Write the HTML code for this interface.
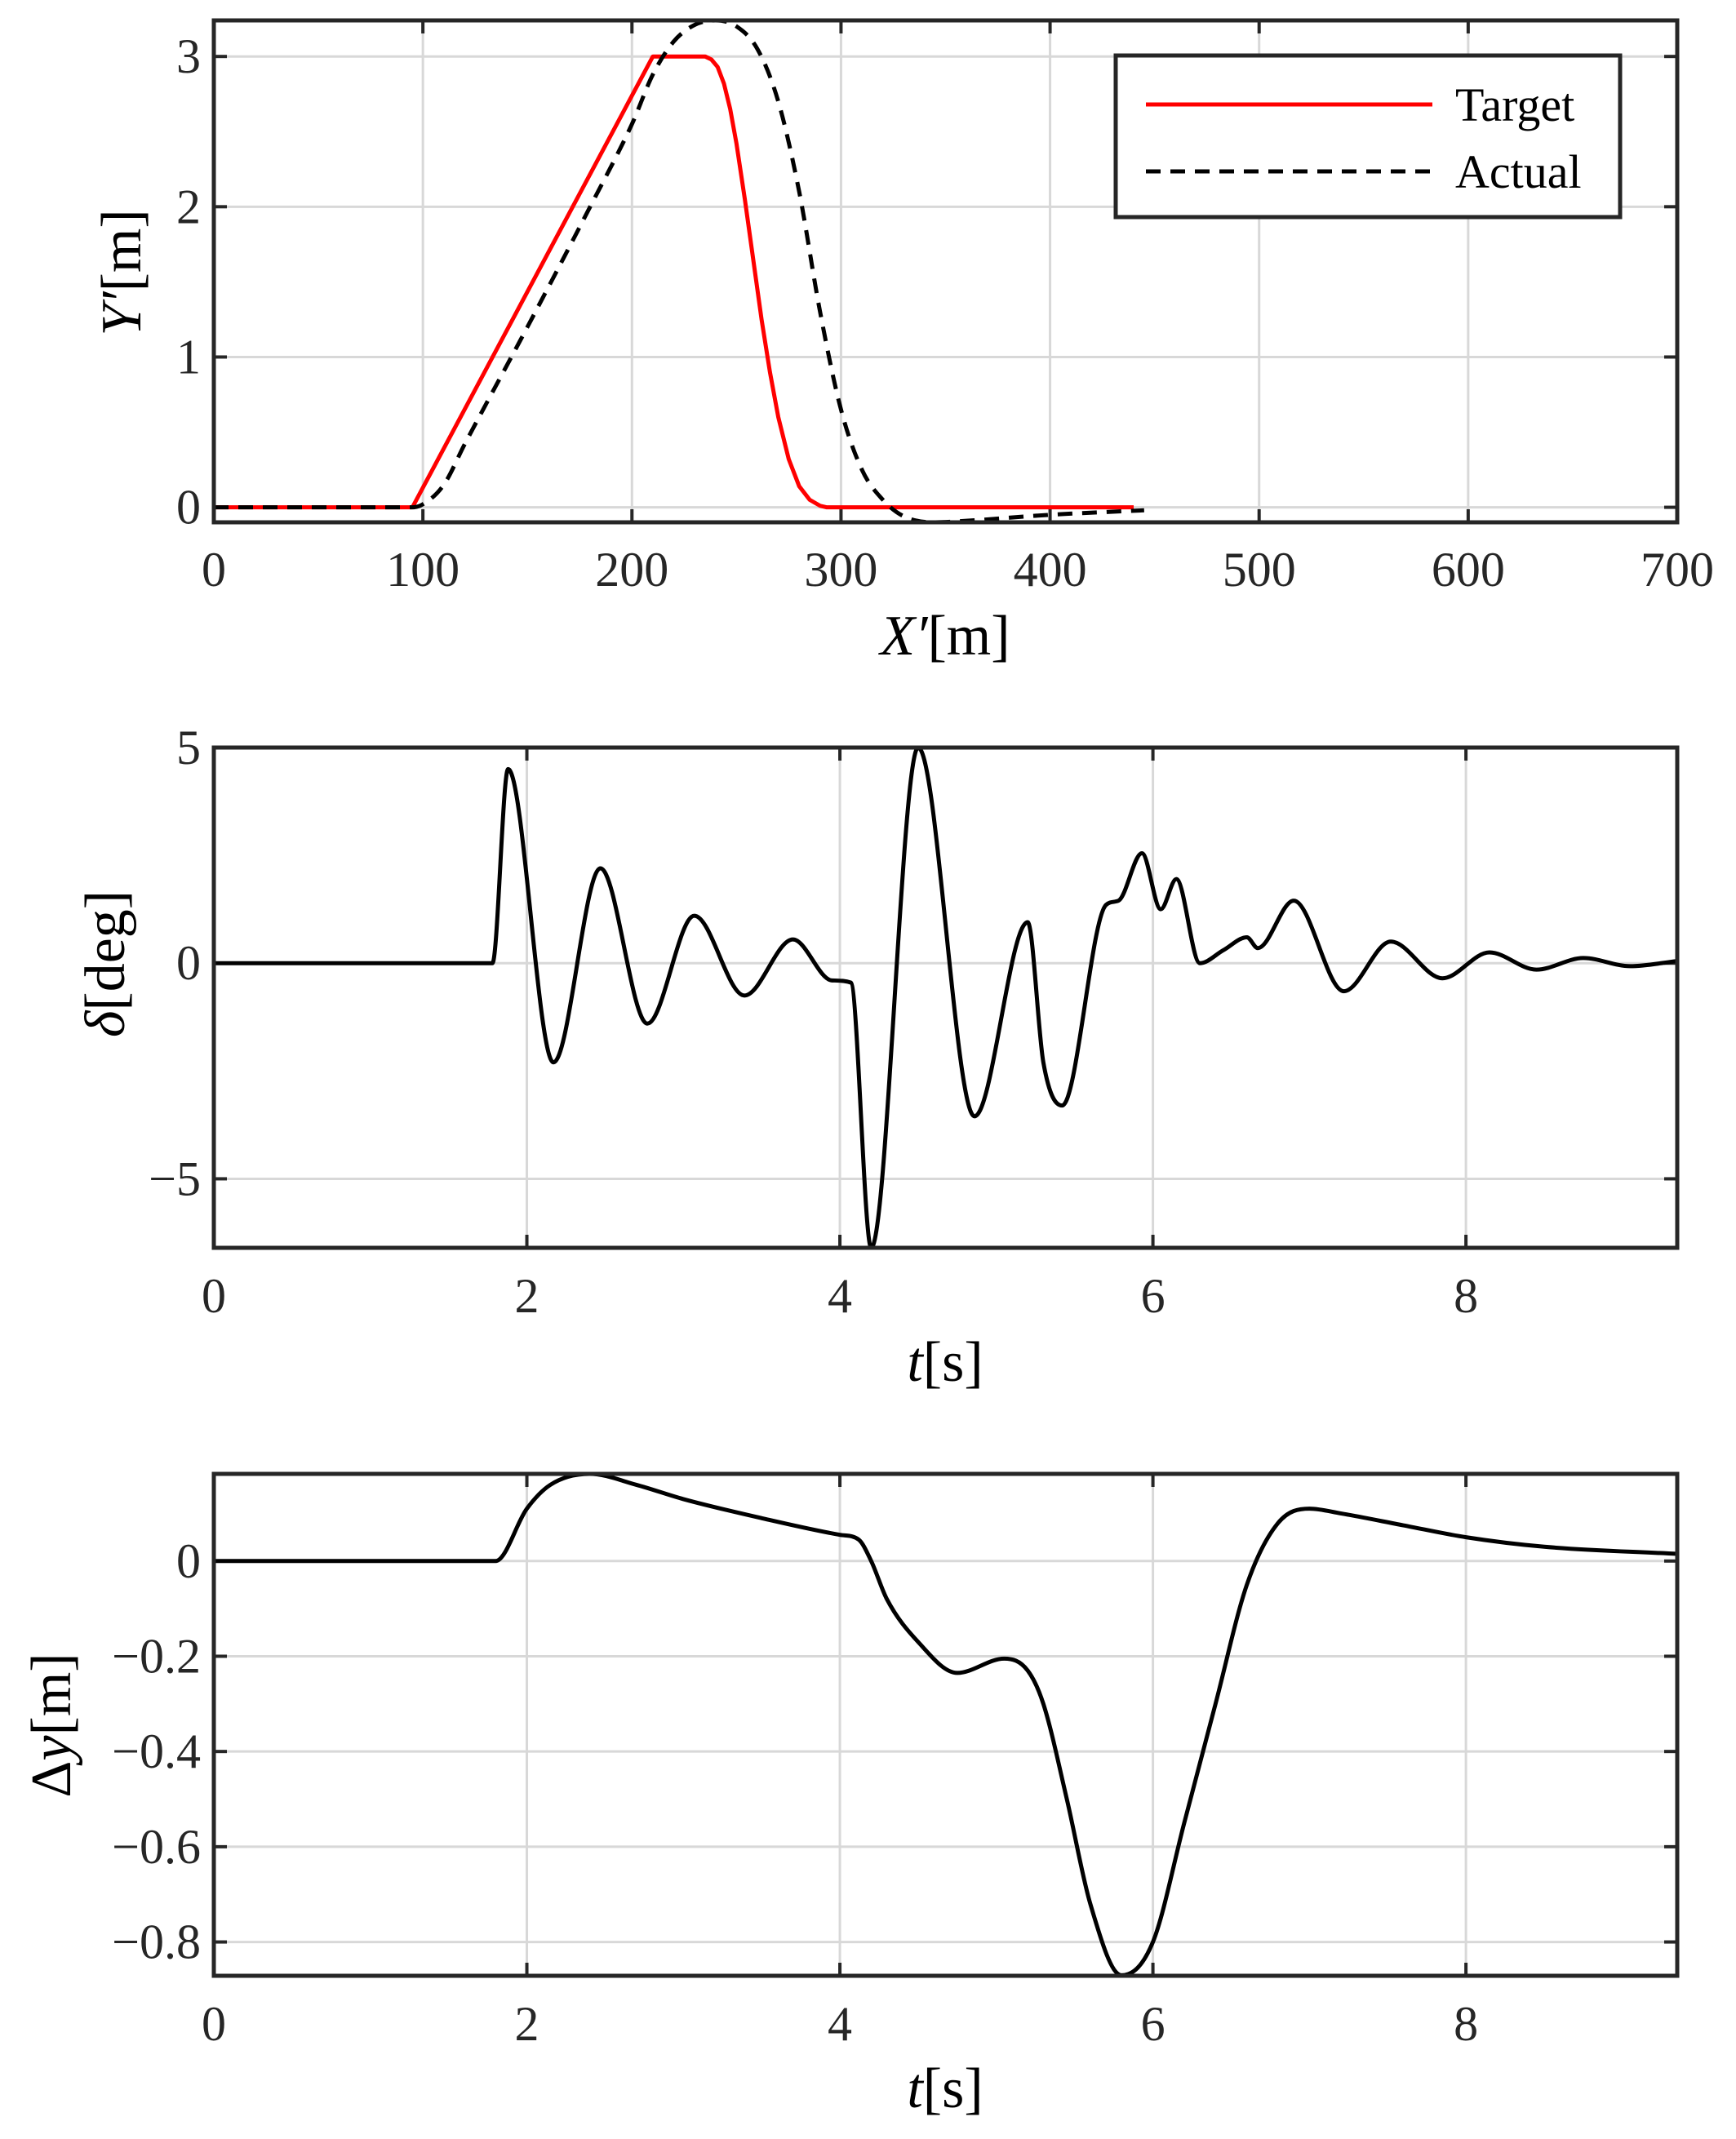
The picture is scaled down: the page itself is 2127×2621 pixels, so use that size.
<!DOCTYPE html>
<html><head><meta charset="utf-8"><style>
html,body{margin:0;padding:0;background:#fff;}
svg{display:block;font-family:"Liberation Serif",serif;}
</style></head><body>
<svg id="fig" width="2127" height="2621" viewBox="0 0 2127 2621" xmlns="http://www.w3.org/2000/svg"></svg>
<script>
// ---- Data ----
const p1XTicks=[0,100,200,300,400,500,600,700];
const p1YTicks=[0,1,2,3];
const targetX=[0,95,210,235,238,241,244,247,250,254,258,262,266,270,275,280,285,290,293,440];
const targetY=[0,0,3,3,2.98,2.93,2.82,2.65,2.42,2.05,1.65,1.25,0.9,0.6,0.32,0.14,0.05,0.01,0,0];
const actualX=[0,95,100,110,120,150,180,200,210,220,230,240,250,260,270,280,290,300,310,320,330,345,360,400,445];
const actualY=[0,0,0.02,0.15,0.42,1.2,2.0,2.55,2.88,3.1,3.21,3.24,3.2,3.05,2.7,2.1,1.3,0.65,0.25,0.05,-0.06,-0.1,-0.09,-0.05,-0.02];
const p2XTicks=[0,2,4,6,8];
const p2YTicks=[-5,0,5];
const deltaT=[0,1.78,1.88,2.17,2.47,2.77,3.07,3.39,3.7,3.95,4.07,4.2,4.5,4.86,5.2,5.3,5.42,5.7,5.78,5.93,6.05,6.15,6.3,6.45,6.6,6.67,6.9,7.22,7.52,7.85,8.15,8.45,8.75,9.05,9.35];
const deltaV=[0,0,4.5,-2.3,2.2,-1.4,1.1,-0.75,0.55,-0.4,-0.45,-6.6,5.0,-3.55,0.95,-2.3,-3.3,1.35,1.45,2.55,1.25,1.95,0,0.3,0.6,0.35,1.45,-0.65,0.5,-0.35,0.25,-0.15,0.12,-0.07,0.05];
const p3YTicks=[-0.8,-0.6,-0.4,-0.2,0];
const dyT=[0,1.8,2.0,2.15,2.4,2.7,3.0,3.5,4.0,4.12,4.2,4.3,4.5,4.75,5.05,5.2,5.3,5.45,5.6,5.8,6.0,6.2,6.4,6.6,6.8,7.0,7.2,7.6,8.0,8.5,9.35];
const dyV=[0,0,0.11,0.16,0.183,0.16,0.13,0.09,0.055,0.045,0.0,-0.08,-0.17,-0.235,-0.205,-0.23,-0.3,-0.5,-0.72,-0.87,-0.8,-0.55,-0.3,-0.05,0.08,0.11,0.1,0.075,0.05,0.03,0.015];

const NS="http://www.w3.org/2000/svg";
const svg=document.getElementById('fig');
function mk(tag,attrs,parent){const e=document.createElementNS(NS,tag);for(const k in attrs)e.setAttribute(k,attrs[k]);(parent||svg).appendChild(e);return e;}

function linPath(xs,ys,sx,sy){return xs.map((x,i)=>(i?'L':'M')+sx(x).toFixed(2)+','+sy(ys[i]).toFixed(2)).join(' ');}
// monotone cubic path
function monoPath(xs,ys,sx,sy){
  const n=xs.length;const d=[],m=[];
  for(let i=0;i<n-1;i++)d.push((ys[i+1]-ys[i])/(xs[i+1]-xs[i]));
  m[0]=d[0];m[n-1]=d[n-2];
  for(let i=1;i<n-1;i++){m[i]=(d[i-1]*d[i]<=0)?0:(d[i-1]+d[i])/2;}
  for(let i=0;i<n-1;i++){if(d[i]===0){m[i]=0;m[i+1]=0;continue;}const a=m[i]/d[i],b=m[i+1]/d[i],s=a*a+b*b;if(s>9){const t=3/Math.sqrt(s);m[i]=t*a*d[i];m[i+1]=t*b*d[i];}}
  let p='M'+sx(xs[0]).toFixed(2)+','+sy(ys[0]).toFixed(2);
  for(let i=0;i<n-1;i++){const h=xs[i+1]-xs[i];
    p+=' C'+sx(xs[i]+h/3).toFixed(2)+','+sy(ys[i]+m[i]*h/3).toFixed(2)+' '+sx(xs[i+1]-h/3).toFixed(2)+','+sy(ys[i+1]-m[i+1]*h/3).toFixed(2)+' '+sx(xs[i+1]).toFixed(2)+','+sy(ys[i+1]).toFixed(2);}
  return p;
}

function axes(cfg){
  const {L,R,T,B,x0,x1,y0,y1,xt,yt,xfmt,yfmt,name}=cfg;
  const sx=v=>L+(v-x0)/(x1-x0)*(R-L);
  const sy=v=>B-(v-y0)/(y1-y0)*(B-T);
  const g=mk('g',{});
  
  
  mk('rect',{x:L,y:T,width:R-L,height:B-T,fill:'#fff'},g);
  xt.forEach(v=>{const x=sx(v);
    const l=mk('line',{x1:x,x2:x,y1:T,y2:B,stroke:'#d8d8d8','stroke-width':3},g);
    
    mk('line',{x1:x,x2:x,y1:B,y2:B-16,stroke:'#262626','stroke-width':4},g);
    mk('line',{x1:x,x2:x,y1:T,y2:T+16,stroke:'#262626','stroke-width':4},g);
    const t=mk('text',{x:x,y:cfg.xly,'font-size':60,'text-anchor':'middle',fill:'#262626'},g);
    t.textContent=xfmt(v);
  });
  yt.forEach(v=>{const y=sy(v);
    const l=mk('line',{x1:L,x2:R,y1:y,y2:y,stroke:'#d8d8d8','stroke-width':3},g);
    
    mk('line',{x1:L,x2:L+16,y1:y,y2:y,stroke:'#262626','stroke-width':4},g);
    mk('line',{x1:R,x2:R-16,y1:y,y2:y,stroke:'#262626','stroke-width':4},g);
    const t=mk('text',{x:L-16,y:y+20,'font-size':60,'text-anchor':'end',fill:'#262626'},g);
    t.textContent=yfmt(v);
  });
  const cp='clip-'+name;
  const defs=mk('defs',{},g);const c=mk('clipPath',{id:cp},defs);mk('rect',{x:L,y:T-4,width:R-L,height:B-T+8},c);
  const plot=mk('g',{'clip-path':'url(#'+cp+')'},g);
  return {sx,sy,g,plot,frame:()=>{const f=mk('rect',{x:L,y:T,width:R-L,height:B-T,fill:'none',stroke:'#262626','stroke-width':5},g);}};
}
const minus=v=>(v<0?'\u2212':'')+Math.abs(v);

// Plot 1
const a1=axes({name:'trajectory-plot',L:262,R:2055,T:25,B:640,x0:0,x1:700,y0:-0.1,y1:3.24,xt:p1XTicks,yt:p1YTicks,xfmt:v=>String(v),yfmt:minus,xly:718});
let s=mk('path',{d:linPath(targetX,targetY,a1.sx,a1.sy),fill:'none',stroke:'#ff0000','stroke-width':5,'stroke-linejoin':'round'},a1.plot);

s=mk('path',{d:monoPath(actualX,actualY,a1.sx,a1.sy),fill:'none',stroke:'#000','stroke-width':5,'stroke-dasharray':'18,12'},a1.plot);

a1.frame();
const leg=mk('g',{});

mk('rect',{x:1367,y:68,width:618,height:198,fill:'#fff',stroke:'#262626','stroke-width':5},leg);
let e=mk('line',{x1:1404,x2:1755,y1:128,y2:128,stroke:'#ff0000','stroke-width':5},leg);

e=mk('text',{x:1783,y:148,'font-size':58,fill:'#000'},leg);e.textContent='Target';

e=mk('line',{x1:1404,x2:1755,y1:210,y2:210,stroke:'#000','stroke-width':5,'stroke-dasharray':'18,12'},leg);

e=mk('text',{x:1783,y:230,'font-size':58,fill:'#000'},leg);e.textContent='Actual';

e=mk('text',{x:0,y:0,'font-size':70,'text-anchor':'middle',transform:'translate(172,334) rotate(-90)'});
e.innerHTML='<tspan font-style="italic">Y′</tspan>[m]';

e=mk('text',{x:1158,y:802,'font-size':70,'text-anchor':'middle'});
e.innerHTML='<tspan font-style="italic">X′</tspan>[m]';


// Plot 2
const a2=axes({name:'steering-plot',L:262,R:2055,T:916,B:1529,x0:0,x1:9.35,y0:-6.6,y1:5.0,xt:p2XTicks,yt:p2YTicks,xfmt:v=>String(v),yfmt:minus,xly:1608});
s=mk('path',{d:monoPath(deltaT,deltaV,a2.sx,a2.sy),fill:'none',stroke:'#000','stroke-width':5},a2.plot);

a2.frame();
e=mk('text',{x:0,y:0,'font-size':70,'text-anchor':'middle',transform:'translate(152,1181) rotate(-90)'});
e.innerHTML='<tspan font-style="italic">δ</tspan>[deg]';

e=mk('text',{x:1158,y:1692,'font-size':70,'text-anchor':'middle'});
e.innerHTML='<tspan font-style="italic">t</tspan>[s]';


// Plot 3
const a3=axes({name:'lateral-error-plot',L:262,R:2055,T:1806,B:2421,x0:0,x1:9.35,y0:-0.871,y1:0.183,xt:p2XTicks,yt:p3YTicks,xfmt:v=>String(v),yfmt:minus,xly:2500});
s=mk('path',{d:monoPath(dyT,dyV,a3.sx,a3.sy),fill:'none',stroke:'#000','stroke-width':5},a3.plot);

a3.frame();
e=mk('text',{x:0,y:0,'font-size':70,'text-anchor':'middle',transform:'translate(86,2114) rotate(-90)'});
e.innerHTML='Δ<tspan font-style="italic">y</tspan>[m]';

e=mk('text',{x:1158,y:2582,'font-size':70,'text-anchor':'middle'});
e.innerHTML='<tspan font-style="italic">t</tspan>[s]';

</script>
</body></html>
